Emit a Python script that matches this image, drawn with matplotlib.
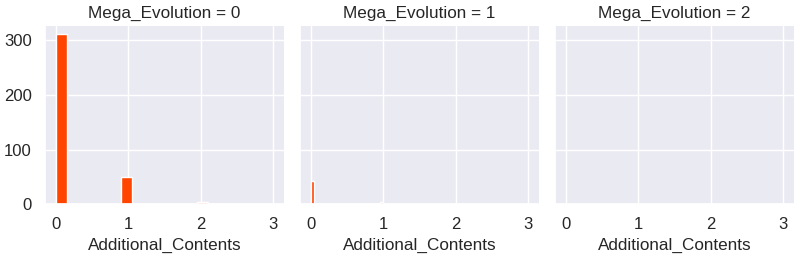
import numpy as np
import pandas as pd
import matplotlib
matplotlib.use("Agg")
import matplotlib.pyplot as plt
import seaborn as sns

sns.set_theme()
plt.rcParams['font.family'] = ['Liberation Sans', 'DejaVu Sans']
plt.rcParams['font.size'] = 12.3
plt.rcParams['axes.labelsize'] = 12.3
plt.rcParams['axes.titlesize'] = 12.3
plt.rcParams['xtick.labelsize'] = 12
plt.rcParams['ytick.labelsize'] = 12

# counts of Additional_Contents values per Mega_Evolution group
mega_levels = [0, 1, 2]
content_values = [0, 1, 2, 3]
counts_mega0 = [311, 49, 3, 1]
counts_mega1 = [42, 4, 0, 0]
counts_mega2 = [0, 0, 0, 0]

rows = []
for mega, counts in zip(mega_levels, [counts_mega0, counts_mega1, counts_mega2]):
    for v, c in zip(content_values, counts):
        rows += [(mega, v)] * c
df = pd.DataFrame(rows, columns=["Mega_Evolution", "Additional_Contents"])

g = sns.FacetGrid(df, col="Mega_Evolution", col_order=mega_levels,
                  height=2.57, aspect=800 / 3 / 257)
g.map(plt.hist, "Additional_Contents", bins=20, color="orangered")
for ax in g.axes.flat:
    ax.set_xlabel("Additional_Contents")
    ax.set_xticks([0, 1, 2, 3])
g.figure.subplots_adjust(left=0.056, right=0.9925, top=0.899, bottom=0.206, wspace=0.067)
g.figure.savefig("out.png", dpi=100)
